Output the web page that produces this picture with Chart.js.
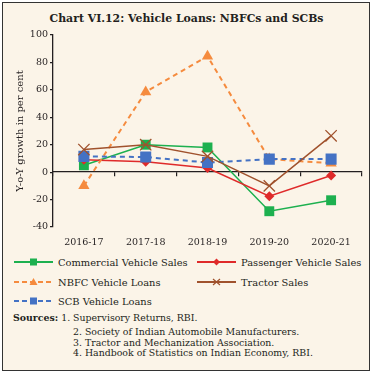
<!DOCTYPE html>
<html>
<head>
<meta charset="utf-8">
<script src="https://cdn.jsdelivr.net/npm/chart.js@4"></script>
<style>
    body { margin: 0; background: #fff; font-family: 'DejaVu Serif', serif; color: #231f20; }
    .frame { position: absolute; left: 2px; top: 2px; width: 366px; height: 367px; border: 1.5px solid #333; background: #fbf4e8; }
    .title { position: absolute; left: 0; width: 373px; top: 12px; text-align: center; font-weight: bold; font-size: 10.9px; }
    #chartBox { position: absolute; left: 0; top: 0; width: 373px; height: 250px; }
    .legend { position: absolute; font-size: 9.9px; white-space: nowrap; }
    .legend .item { position: absolute; display: flex; align-items: center; }
    .legend svg { margin-right: 4px; }
    .sources { position: absolute; left: 13px; top: 313px; font-size: 9.4px; line-height: 10.8px; white-space: nowrap; }
    .sources div { padding-left: 60px; }
    .sources div.first { padding-left: 0; margin-bottom: 3px; }
</style>
</head>
<body>
<div class="frame"></div>
<div class="title">Chart VI.12: Vehicle Loans: NBFCs and SCBs</div>
<div id="chartBox"><canvas id="vehicleChart" width="373" height="250"></canvas></div>
<div class="legend" id="legend"></div>
<div class="sources">
    <div class="first"><b>Sources:</b> 1. Supervisory Returns, RBI.</div>
    <div>2. Society of Indian Automobile Manufacturers.</div>
    <div>3. Tractor and Mechanization Association.</div>
    <div>4. Handbook of Statistics on Indian Economy, RBI.</div>
</div>
<script>
// Data
const years = ['2016-17', '2017-18', '2018-19', '2019-20', '2020-21'];
const commercialSales = [5, 20, 18, -28.5, -20.5];
const passengerSales = [9, 7.5, 3, -17.5, -2.5];
const nbfcLoans = [-10, 58.5, 84.5, 9.5, 6.5];
const tractorSales = [16.5, 20, 11.5, -10, 26.5];
const scbLoans = [11.5, 11, 7, 9.5, 9.5];
const yTicks = [100, 80, 60, 40, 20, 0, -20, -40];

const ink = '#231f20';
const green = '#1db04f';
const red = '#df2a2a';
const orange = '#f58b3e';
const brown = '#a0522d';
const blue = '#4472c4';

const series = [
    { label: 'Commercial Vehicle Sales', data: commercialSales, color: green, style: 'rect', radius: 7, dash: [], order: 5 },
    { label: 'Passenger Vehicle Sales', data: passengerSales, color: red, style: 'rectRot', radius: 5, dash: [], order: 4 },
    { label: 'NBFC Vehicle Loans', data: nbfcLoans, color: orange, style: 'triangle', radius: 6.5, dash: [5, 4], order: 3 },
    { label: 'Tractor Sales', data: tractorSales, color: brown, style: 'crossRot', radius: 8, dash: [], order: 1 },
    { label: 'SCB Vehicle Loans', data: scbLoans, color: blue, style: 'rect', radius: 7.8, dash: [5, 4], order: 2 }
];

const ctx = document.getElementById('vehicleChart').getContext('2d');
new Chart(ctx, {
    type: 'line',
    data: {
        labels: years,
        datasets: series.map(s => ({
            label: s.label,
            data: s.data,
            borderColor: s.color,
            backgroundColor: s.color,
            pointBackgroundColor: s.color,
            pointBorderColor: s.color,
            pointBorderWidth: s.style === 'crossRot' ? 1.3 : 0,
            pointStyle: s.style,
            pointRadius: s.radius,
            borderWidth: s.dash.length ? 2 : 1.5,
            borderDash: s.dash,
            tension: 0,
            order: s.order
        }))
    },
    options: {
        responsive: false,
        animation: false,
        layout: { padding: { left: 14, right: 11, top: 35, bottom: 0 } },
        plugins: {
            legend: { display: false },
            tooltip: { enabled: false }
        },
        scales: {
            x: {
                offset: true,
                grid: { display: false },
                border: { display: false },
                ticks: {
                    color: ink,
                    padding: 2,
                    maxRotation: 0,
                    font: { family: 'DejaVu Serif', size: 9.5 }
                },
                afterFit: scale => { scale.height = 23; }
            },
            // zero line with category tick marks
            x0: {
                type: 'category',
                position: { y: 0 },
                offset: true,
                grid: { offset: true, drawOnChartArea: false, drawTicks: true, tickLength: 4, color: ink, lineWidth: 1.2 },
                border: { color: ink, width: 1.3 },
                ticks: { display: false }
            },
            y: {
                min: -40,
                max: 100,
                afterBuildTicks: scale => { scale.ticks = yTicks.map(v => ({ value: v })); },
                grid: { drawOnChartArea: false, drawTicks: true, tickLength: 3, color: ink, lineWidth: 1.2 },
                border: { color: ink, width: 1.3 },
                ticks: {
                    color: ink,
                    padding: 2,
                    font: { family: 'DejaVu Serif', size: 9.5 }
                },
                title: {
                    display: true,
                    text: 'Y-o-Y growth in per cent',
                    color: ink,
                    padding: { top: 0, bottom: 0 },
                    font: { family: 'DejaVu Serif', size: 10 }
                },
                afterFit: scale => { scale.width = 39; }
            }
        }
    }
});

// HTML legend, two columns
const legendPos = [
    { x: 14, y: 255 }, { x: 197, y: 255 },
    { x: 14, y: 275 }, { x: 197, y: 275 },
    { x: 14, y: 294 }
];

function markerSvg(s) {
    const c = s.color;
    const dash = s.dash.length ? ' stroke-dasharray="5,3"' : '';
    let mark = '';
    if (s.style === 'rect') mark = `<rect x="16" y="3.5" width="7" height="7" fill="${c}"/>`;
    if (s.style === 'rectRot') mark = `<polygon points="19.5,3.5 23,7 19.5,10.5 16,7" fill="${c}"/>`;
    if (s.style === 'triangle') mark = `<polygon points="19.5,3 23.5,10 15.5,10" fill="${c}"/>`;
    if (s.style === 'crossRot') mark = `<path d="M16,4 L23,10 M23,4 L16,10" stroke="${c}" stroke-width="1.2"/>`;
    return `<svg width="40" height="14"><line x1="0" y1="7" x2="39" y2="7" stroke="${c}" stroke-width="2"${dash}/>${mark}</svg>`;
}

const legendEl = document.getElementById('legend');
series.forEach((s, i) => {
    const item = document.createElement('div');
    item.className = 'item';
    item.style.left = legendPos[i].x + 'px';
    item.style.top = legendPos[i].y + 'px';
    item.innerHTML = markerSvg(s) + '<span>' + s.label + '</span>';
    legendEl.appendChild(item);
});
</script>
</body>
</html>
